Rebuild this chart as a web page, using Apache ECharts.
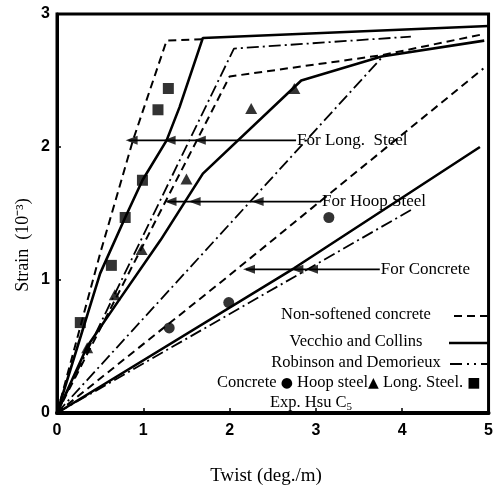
<!DOCTYPE html>
<html>
<head>
<meta charset="utf-8">
<script src="https://cdn.jsdelivr.net/npm/echarts@6/dist/echarts.min.js"></script>
<style>
  html, body { margin: 0; padding: 0; background: #fff; }
  #chart { width: 496px; height: 492px; }
</style>
</head>
<body>
<div id="chart"></div>
<script>
// Axis ranges (twist in deg./m, strain in 10^-3)
const twistRange = [0, 5];
const strainRange = [0, 3];

// Non-softened concrete model
const nsLong = [[0, 0], [0.5, 1.2], [0.88, 2.05], [1.27, 2.80], [1.69, 2.81]];
const nsHoop = [[0, 0], [2.0, 2.53], [3.76, 2.69], [4.95, 2.85]];
const nsConcrete = [[0, 0], [1.93, 1.0], [4.94, 2.59]];

// Vecchio and Collins model
const vcLong = [[0, 0], [0.5, 1.05], [0.79, 1.47], [0.99, 1.75], [1.27, 2.05], [1.42, 2.30], [1.69, 2.82], [5.0, 2.91]];
const vcHoop = [[0, 0], [0.35, 0.5], [0.73, 0.86], [1.2, 1.3], [1.69, 1.80], [2.83, 2.50], [3.76, 2.68], [4.95, 2.80]];
const vcConcrete = [[0, 0], [2.75, 1.09], [4.9, 2.0]];

// Robinson and Demorieux model
const rdLong = [[0, 0], [2.05, 2.74], [4.1, 2.83]];
const rdHoop = [[0, 0], [3.76, 2.67]];
const rdConcrete = [[0, 0], [4.11, 1.53]];

// Test results, specimen C5
const expConcrete = [[1.30, 0.64], [1.99, 0.83], [3.15, 1.47]];
const expHoop = [[0.35, 0.49], [0.67, 0.89], [0.98, 1.23], [1.50, 1.76], [2.25, 2.29], [2.75, 2.44]];
const expLong = [[0.27, 0.68], [0.63, 1.11], [0.79, 1.47], [0.99, 1.75], [1.17, 2.28], [1.29, 2.44]];

// Pointer arrows: strain level, arrowhead twists, shaft end, caption
const pointerStrain = [2.05, 1.59, 1.08];
const pointerHeads = [[0.83, 1.27, 1.62], [1.28, 1.56, 2.29], [2.19, 2.75, 2.92]];
const pointerEnd = [2.77, 3.06, 3.74];
const pointerText = ['For Long.  Steel', 'For Hoop Steel', 'For Concrete'];

const SERIF = '"Liberation Serif", "Times New Roman", serif';
const SANS = '"Liberation Sans", Arial, sans-serif';

const DASH = [8, 5];
const DASHDOT = [12, 4, 2, 4];

function curve(data, type, width) {
  return {
    type: 'line', data: data, symbol: 'none', silent: true, z: 3,
    lineStyle: { color: '#000', width: width, type: type }
  };
}

function markers(data, symbol, size) {
  return {
    type: 'scatter', data: data, symbol: symbol, symbolSize: size, z: 5,
    itemStyle: { color: '#000' }
  };
}

const series = [
  curve(nsLong, DASH, 2), curve(nsHoop, DASH, 2), curve(nsConcrete, DASH, 2),
  curve(vcLong, 'solid', 2.6), curve(vcHoop, 'solid', 2.6), curve(vcConcrete, 'solid', 2.6),
  curve(rdLong, DASHDOT, 1.8), curve(rdHoop, DASHDOT, 1.8), curve(rdConcrete, DASHDOT, 1.8),
  markers(expConcrete, 'circle', 11),
  markers(expHoop, 'triangle', [12, 11]),
  markers(expLong, 'rect', 11)
];

pointerStrain.forEach(function (s, i) {
  const heads = pointerHeads[i];
  series.push({
    type: 'line', symbol: 'none', silent: true, z: 4,
    data: [[heads[0], s], [pointerEnd[i], s]],
    lineStyle: { color: '#000', width: 1.8 },
    endLabel: {
      show: true, formatter: pointerText[i], distance: 1,
      fontFamily: SERIF, fontSize: 17, color: '#000'
    }
  });
  series.push({
    type: 'scatter', z: 4, symbol: 'triangle', symbolRotate: 90,
    symbolSize: [9, 12], symbolOffset: [3, 0],
    data: heads.map(function (h) { return [h, s]; }),
    itemStyle: { color: '#000' }
  });
});

const legendRows = [
  { label: 'Non-softened concrete', y: 315, dash: DASH, w: 2, x0: 454 },
  { label: 'Vecchio and Collins', y: 342, dash: 'solid', w: 2.6, x0: 449 },
  { label: 'Robinson and Demorieux', y: 363, dash: [12, 5, 2, 5, 2, 5], w: 1.8, x0: 450 }
];

const graphics = [];
legendRows.forEach(function (r) {
  graphics.push({
    type: 'text', x: 356, y: r.y, z: 10,
    style: { text: r.label, font: '16.5px ' + SERIF, fill: '#000', align: 'center', verticalAlign: 'middle' }
  });
  graphics.push({
    type: 'line', z: 10,
    shape: { x1: r.x0, y1: r.y + 1, x2: 488, y2: r.y + 1 },
    style: { stroke: '#000', lineWidth: r.w, lineDash: r.dash === 'solid' ? null : r.dash }
  });
});
graphics.push({
  type: 'text', x: 217, y: 383, z: 10,
  style: {
    text: 'Concrete {m|●} Hoop steel{m|▲} Long. Steel. {m|■}',
    font: '16.5px ' + SERIF, fill: '#000', align: 'left', verticalAlign: 'middle',
    rich: { m: { fontFamily: '"DejaVu Sans"', fontSize: 14, fill: '#000' } }
  }
});
graphics.push({
  type: 'text', x: 270, y: 403, z: 10,
  style: {
    text: 'Exp. Hsu C{s|5}',
    font: '16.5px ' + SERIF, fill: '#000', align: 'left', verticalAlign: 'middle',
    rich: { s: { fontFamily: SERIF, fontSize: 11, padding: [8, 0, 0, 0] } }
  }
});
// Axis titles
graphics.push({
  type: 'text', x: 23, y: 245, rotation: Math.PI / 2, z: 10,
  style: { text: 'Strain  (10⁻³)', font: '18px ' + SERIF, fill: '#000', align: 'center', verticalAlign: 'middle' }
});
graphics.push({
  type: 'text', x: 266, y: 476, z: 10,
  style: { text: 'Twist (deg./m)', font: '19px ' + SERIF, fill: '#000', align: 'center', verticalAlign: 'middle' }
});

const chart = echarts.init(document.getElementById('chart'), null, { renderer: 'canvas' });
chart.setOption({
  animation: false,
  backgroundColor: '#fff',
  grid: {
    left: 57, right: 6, top: 14, bottom: 79,
    show: true, borderColor: '#000', borderWidth: 3
  },
  xAxis: {
    type: 'value', min: twistRange[0], max: twistRange[1], interval: 1,
    axisLine: { show: true, lineStyle: { color: '#000', width: 4 } },
    axisTick: { show: true, inside: true, length: 5, lineStyle: { color: '#000', width: 1.5 } },
    axisLabel: { color: '#000', fontFamily: SANS, fontWeight: 'bold', fontSize: 16, margin: 10 },
    splitLine: { show: false }
  },
  yAxis: {
    type: 'value', min: strainRange[0], max: strainRange[1], interval: 1,
    axisLine: { show: true, lineStyle: { color: '#000', width: 3 } },
    axisTick: { show: true, inside: true, length: 4, lineStyle: { color: '#000', width: 1.5 } },
    axisLabel: { color: '#000', fontFamily: SANS, fontWeight: 'bold', fontSize: 16, margin: 7 },
    splitLine: { show: false }
  },
  series: series,
  graphic: graphics
});
</script>
</body>
</html>
